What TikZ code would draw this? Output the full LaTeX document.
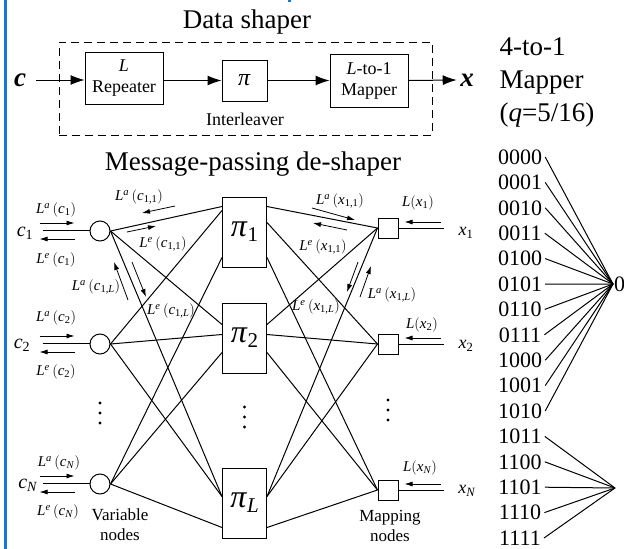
\documentclass[tikz,border=0pt]{standalone}
\usepackage{fontspec}
\setmainfont{Liberation Serif}
\usetikzlibrary{positioning}
\usetikzlibrary{arrows.meta}

% L^a(c_{1,1}) style message labels
\newcommand{\msgL}[3]{\textit{L}\textsuperscript{\textit{#1}}\,$\bigl($\textit{#2}\textsubscript{#3}$\bigr)$}
\newcommand{\obsL}[2]{\textit{L}$\bigl($\textit{#1}\textsubscript{#2}$\bigr)$}
\newcommand{\bigpi}[1]{\textit{π}\raisebox{-5pt}{\fontsize{21}{21}\selectfont #1}}

\definecolor{framebl}{RGB}{20,120,215}

\tikzset{
  blk/.style={draw, line width=1pt, align=center, inner sep=2pt, font=\fontsize{18}{21}\selectfont},
  vnode/.style={draw, circle, line width=1pt, minimum size=20pt, inner sep=0pt},
  mnode/.style={draw, line width=1pt, minimum size=20pt, inner sep=0pt},
  pbox/.style={draw, line width=1pt, minimum width=44pt, minimum height=70pt, inner sep=0pt, font=\fontsize{32}{36}\selectfont},
  flow/.style={-{Latex[length=14pt,width=10pt]}, line width=1pt},
  msg/.style={-{Latex[length=8pt,width=5pt]}, line width=0.8pt},
  lbl/.style={font=\fontsize{15}{18}\selectfont, inner sep=0pt},
  vlbl/.style={font=\fontsize{20}{22}\selectfont, inner sep=0pt},
  bin/.style={font=\fontsize{22}{24}\selectfont, inner sep=3pt},
  edge/.style={line width=1pt},
  big/.style={font=\fontsize{27}{33}\selectfont},
}

\begin{document}
\begin{tikzpicture}[x=1pt, y=-1pt]
\useasboundingbox (0,0) rectangle (624,549);
\fill[framebl] (4,0) rectangle (7,549);
\fill[framebl] (288,0) rectangle (291,2);

%%% data shaper
\node[big] (dstitle) at (247,22) {Data shaper};
\node[draw, dash pattern=on 8pt off 5pt, line width=1pt, minimum width=373pt, minimum height=93pt] (dsbox) at (245.5,88.5) {};
\node[font=\fontsize{27}{30}\selectfont] (cin) at (20,80) {\textbf{\textit{c}}};
\node[blk, minimum width=78pt, minimum height=52pt] (rep) at (124,78) {\textit{L}\\Repeater};
\node[blk, minimum width=45pt, minimum height=41pt, font=\fontsize{24}{24}\selectfont] (pi0) at (244.5,80.5) {\textit{π}};
\node[blk, minimum width=78pt, minimum height=53pt] (map0) at (369,80.5) {\textit{L}-to-1\\Mapper};
\node[font=\fontsize{18}{21}\selectfont] (ilv) at (245,119) {Interleaver};
\node[font=\fontsize{27}{30}\selectfont] (xout) at (467,80) {\textbf{\textit{x}}};
\draw[flow] (cin.east) ++(6,0) coordinate (cst) -- (cst -| rep.west);
\draw[flow] (rep.east |- pi0) -- (pi0.west);
\draw[flow] (pi0.east) -- (map0.west);
\draw[flow] (map0.east) -- (xout.west);

%%% mapping table
\node[big, align=left, anchor=west] (maptitle) at (496,82) {4-to-1\\Mapper\\(\textit{q}=5/16)};
\coordinate (g0) at (613,284);
\coordinate (g1) at (615,488);
\node[font=\fontsize{22}{24}\selectfont, anchor=west, inner sep=1pt] (g0lbl) at (g0) {0};
\foreach \b [count=\i from 0] in {0000,0001,0010,0011,0100,0101,0110,0111,1000,1001,1010,1011,1100,1101,1110,1111}
  \node[bin] (b\i) at (520,157+25.4*\i) {\b};
\foreach \i in {0,...,10}
  \draw[edge] (b\i.east) -- (g0);
\foreach \i in {11,...,15}
  \draw[edge] (b\i.east) -- (g1);

%%% message-passing de-shaper
\node[big] (mptitle) at (253,164) {Message-passing de-shaper};

\node[vnode] (v1) at (100,231) {};
\node[vnode] (v2) at (100,344) {};
\node[vnode] (vN) at (100,484) {};
\node[pbox] (p1) at (244.5,232) {\bigpi{1}};
\node[pbox] (p2) at (244.5,338) {\bigpi{2}};
\node[pbox] (pL) at (244.5,503) {\bigpi{\textit{L}}};
\node[mnode] (m1) at (388,228) {};
\node[mnode] (m2) at (388,344) {};
\node[mnode] (mN) at (388,490) {};

% vertical dots between the rows
\coordinate (vdots) at (100,413);
\coordinate (pdots) at (244.5,417);
\coordinate (mdots) at (388,410);
\foreach \c in {vdots,pdots,mdots}
  \foreach \d in {-10,0,10}
    \fill (\c) ++(0,\d) circle (1.6);

% variable node -> interleaver
\foreach \v/\p/\y in {1/1/10, 2/1/14, N/1/61,
                      1/2/22, 2/2/32, N/2/50,
                      1/L/29, 2/L/29, N/L/60}
  \draw[edge] (v\v.east) -- ([yshift=-\y pt]p\p.north west);
% interleaver -> mapping node
\foreach \p/\m/\y in {1/1/10, 1/2/26, 1/N/61,
                      2/1/22, 2/2/32, 2/N/50,
                      L/1/29, L/2/29, L/N/60}
  \draw[edge] ([yshift=-\y pt]p\p.north east) -- (m\m.west);

% channel side of the variable nodes
\node[vlbl] (c1) at (25,233) {\textit{c}\textsubscript{1}};
\node[vlbl] (c2) at (22,345) {\textit{c}\textsubscript{2}};
\node[vlbl] (cN) at (28,485) {\textit{c}\textsubscript{\textit{N}}};
\foreach \v in {1,2,N}{
  \draw[edge] (v\v.west) ++(-47,-1) coordinate (in\v) -- (v\v.west |- in\v);
  \draw[msg] ([shift={(-50,-8)}]v\v.west) -- ++(35,0);
  \draw[msg] ([shift={(-15,8)}]v\v.west) -- ++(-35,0);
}
\node[lbl] (lac1) at (56,210) {\msgL{a}{c}{1}};
\node[lbl] (lec1) at (56,260) {\msgL{e}{c}{1}};
\node[lbl] (lac2) at (56,318) {\msgL{a}{c}{2}};
\node[lbl] (lec2) at (56,372) {\msgL{e}{c}{2}};
\node[lbl] (lacN) at (59,463) {\msgL{a}{c}{\textit{N}}};
\node[lbl] (lecN) at (58,512) {\msgL{e}{c}{\textit{N}}};
\node[font=\fontsize{17}{20}\selectfont, align=center] (varlab) at (120,525) {Variable\\nodes};

% messages along the edges
\draw[msg] (175,206) -- (142,213);
\node[lbl] (lac11) at (139,197) {\msgL{a}{c}{1,1}};
\draw[msg] (127,232) -- (156,226);
\node[lbl] (lec11) at (163,244) {\msgL{e}{c}{1,1}};
\draw[msg] (128,300) -- (114,262);
\node[lbl] (lac1L) at (96,287) {\msgL{a}{c}{1,\textit{L}}};
\draw[msg] (132,262) -- (146,297);
\node[lbl] (lec1L) at (171,311) {\msgL{e}{c}{1,\textit{L}}};

\draw[msg] (312,208) -- (355,220);
\node[lbl] (lax11) at (340,201) {\msgL{a}{x}{1,1}};
\draw[msg] (347,230) -- (313,223);
\node[lbl] (lex11) at (323,247) {\msgL{e}{x}{1,1}};
\draw[msg] (358,262) -- (347,292);
\node[lbl] (lex1L) at (316,307) {\msgL{e}{x}{1,\textit{L}}};
\draw[msg] (360,297) -- (371,266);
\node[lbl] (lax1L) at (392,295) {\msgL{a}{x}{1,\textit{L}}};

% observation side of the mapping nodes
\node[font=\fontsize{18}{20}\selectfont] (x1) at (466,233) {\textit{x}\textsubscript{1}};
\node[font=\fontsize{18}{20}\selectfont] (x2) at (466,346) {\textit{x}\textsubscript{2}};
\node[font=\fontsize{18}{20}\selectfont] (xN) at (467,491) {\textit{x}\textsubscript{\textit{N}}};
\foreach \m in {1,2,N}{
  \draw[edge] (m\m.east) -- ++(45,0) coordinate (out\m);
  \draw[msg] ([shift={(42,-6)}]m\m.east) -- ++(-36,0);
}
\node[lbl] (lx1) at (418,203) {\obsL{x}{1}};
\node[lbl] (lx2) at (422,325) {\obsL{x}{2}};
\node[lbl] (lxN) at (420,468) {\obsL{x}{\textit{N}}};
\node[font=\fontsize{17}{20}\selectfont, align=center] (maplab) at (390,526) {Mapping\\nodes};
\end{tikzpicture}
\end{document}
